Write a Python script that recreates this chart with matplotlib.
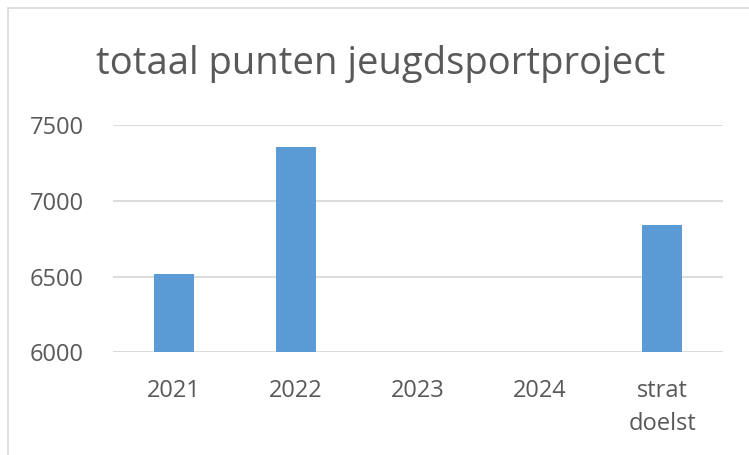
import matplotlib.pyplot as plt
from matplotlib.patches import Rectangle

categories = ['2021', '2022', '2023', '2024', 'strat\ndoelst']
punten = [6516, 7353, 0, 0, 6839]
yticks = [6000, 6500, 7000, 7500]

W, H = 749, 455
fig = plt.figure(figsize=(W / 100, H / 100), dpi=100)
plt.rcParams['font.family'] = ['Open Sans', 'DejaVu Sans']

# outer chart frame (cropped at right and bottom)
fig.patches.append(Rectangle((8 / W, -0.1), 1.2, 1.1 - 8 / H, transform=fig.transFigure,
                             fill=False, edgecolor='#d9d9d9', linewidth=1.2))

ax = fig.add_axes([113 / W, 1 - 352.3 / H, (723 - 113) / W, (352.3 - 125) / H])
x = range(len(categories))
ax.bar(x, punten, width=0.32, color='#5b9bd5', zorder=3)
ax.set_ylim(6000, 7500)
ax.set_xlim(-0.5, len(categories) - 0.5)
ax.set_yticks(yticks)
ax.set_xticks(list(x))
ax.set_xticklabels(categories, linespacing=1.5)
ax.tick_params(length=0, colors='#595959', labelsize=17)
ax.tick_params(axis='y', pad=21)
ax.tick_params(axis='x', pad=19)
ax.grid(axis='y', color='#d9d9d9', linewidth=1.3, zorder=0)
for s in ax.spines.values():
    s.set_visible(False)

fig.text(0.5 * (8 / W + 1) + 2 / W, 1 - 64 / H, 'totaal punten jeugdsportproject',
         ha='center', va='center', fontsize=27.5, color='#595959')

fig.savefig('out.png', dpi=100)
